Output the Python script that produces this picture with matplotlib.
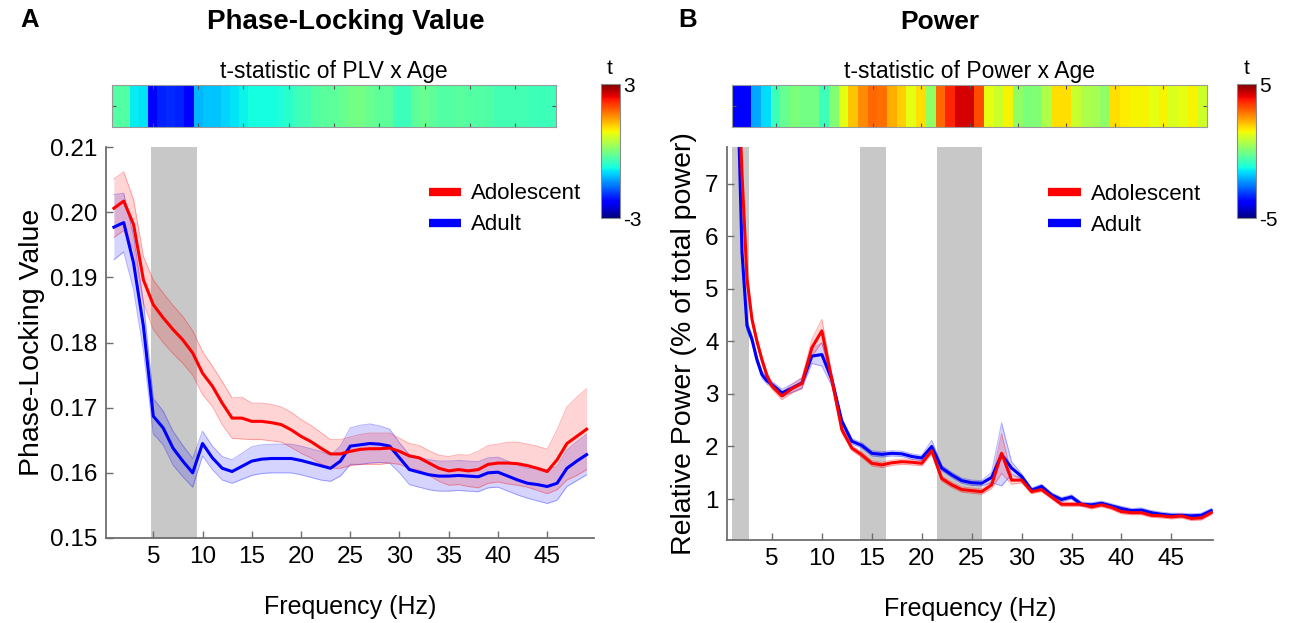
import numpy as np
import matplotlib
matplotlib.use('Agg')
import matplotlib.pyplot as plt
from matplotlib.lines import Line2D

plt.rcParams['font.family'] = ['Liberation Sans', 'DejaVu Sans']

# ---------------- Panel A: Phase-Locking Value ----------------
freq_a = list(range(1, 50))
plv_adolescent = [0.2006, 0.2017, 0.1981, 0.1896, 0.1858, 0.1838, 0.1820, 0.1804, 0.1784, 0.1753,
                  0.1733, 0.1707, 0.1684, 0.1684, 0.1679, 0.1679, 0.1677, 0.1674, 0.1666, 0.1656,
                  0.1648, 0.1638, 0.1629, 0.1629, 0.1633, 0.1636, 0.1637, 0.1637, 0.1638, 0.1633,
                  0.1626, 0.1623, 0.1615, 0.1607, 0.1603, 0.1605, 0.1603, 0.1605, 0.1613, 0.1615,
                  0.1615, 0.1614, 0.1611, 0.1607, 0.1602, 0.1620, 0.1645, 0.1656, 0.1667]
plv_adolescent_sem = [0.0045, 0.0045, 0.0038, 0.0036, 0.0038, 0.0038, 0.0037, 0.0036, 0.0034, 0.0033,
                      0.0031, 0.0033, 0.0031, 0.0032, 0.0028, 0.0028, 0.0028, 0.0027, 0.0027, 0.0026,
                      0.0025, 0.0024, 0.0022, 0.0022, 0.0022, 0.0023, 0.0024, 0.0024, 0.0023, 0.0020,
                      0.0019, 0.0019, 0.0019, 0.0020, 0.0022, 0.0023, 0.0024, 0.0028, 0.0029, 0.0029,
                      0.0032, 0.0033, 0.0033, 0.0034, 0.0034, 0.0046, 0.0056, 0.0060, 0.0062]
plv_adult = [0.1977, 0.1984, 0.1922, 0.1825, 0.1687, 0.1669, 0.1638, 0.1618, 0.1600, 0.1645,
             0.1623, 0.1607, 0.1602, 0.1610, 0.1618, 0.1621, 0.1622, 0.1622, 0.1622, 0.1619,
             0.1615, 0.1611, 0.1607, 0.1618, 0.1641, 0.1643, 0.1645, 0.1644, 0.1641, 0.1623,
             0.1605, 0.1601, 0.1597, 0.1595, 0.1595, 0.1596, 0.1595, 0.1594, 0.1600, 0.1601,
             0.1595, 0.1589, 0.1584, 0.1582, 0.1579, 0.1584, 0.1607, 0.1618, 0.1628]
plv_adult_sem = [0.0050, 0.0045, 0.0041, 0.0038, 0.0027, 0.0026, 0.0026, 0.0024, 0.0022, 0.0019,
                 0.0018, 0.0018, 0.0018, 0.0020, 0.0022, 0.0022, 0.0022, 0.0022, 0.0022, 0.0022,
                 0.0022, 0.0022, 0.0020, 0.0023, 0.0028, 0.0030, 0.0030, 0.0028, 0.0026, 0.0023,
                 0.0023, 0.0023, 0.0023, 0.0023, 0.0023, 0.0023, 0.0023, 0.0023, 0.0023, 0.0023,
                 0.0023, 0.0023, 0.0023, 0.0025, 0.0026, 0.0026, 0.0028, 0.0030, 0.0031]
t_plv = [-0.3, -0.3, -0.85, -0.9, -2.3, -2.05, -2.0, -2.05, -2.25, -1.15,
         -1.1, -1.1, -1.0, -0.9, -0.8, -0.75, -0.75, -0.75, -0.7, -0.6,
         -0.45, -0.4, -0.3, -0.25, -0.22, -0.15, -0.07, -0.07, -0.15, -0.22,
         -0.22, -0.45, -0.45, -0.22, -0.15, -0.22, -0.3, -0.3, -0.25, -0.3,
         -0.3, -0.32, -0.4, -0.4, -0.4, -0.4, -0.45, -0.45, -0.45]
sig_plv = [(4.75, 9.45)]

# ---------------- Panel B: Relative Power ----------------
freq_b = [1.5, 2, 2.5, 3, 3.5, 4, 4.5] + list(range(5, 50))
pow_adolescent = [9.6, 7.2, 5.2, 4.42, 4.0, 3.65, 3.35,
                  3.15, 2.96, 3.10, 3.20, 3.88, 4.20, 3.27, 2.32, 1.97, 1.84,
                  1.68, 1.65, 1.69, 1.71, 1.70, 1.68, 1.92, 1.39, 1.27, 1.18,
                  1.16, 1.14, 1.27, 1.87, 1.36, 1.36, 1.14, 1.18, 1.04, 0.90,
                  0.90, 0.90, 0.85, 0.89, 0.84, 0.76, 0.74, 0.74, 0.69, 0.68,
                  0.66, 0.68, 0.63, 0.64, 0.74]
pow_adolescent_sem = [0.15, 0.12, 0.10, 0.08, 0.07, 0.07, 0.06,
                      0.06, 0.07, 0.08, 0.10, 0.16, 0.22, 0.10, 0.06, 0.05, 0.05,
                      0.05, 0.05, 0.05, 0.05, 0.05, 0.05, 0.06, 0.05, 0.05, 0.05,
                      0.05, 0.05, 0.07, 0.38, 0.08, 0.05, 0.04, 0.04, 0.04, 0.04,
                      0.04, 0.04, 0.04, 0.04, 0.04, 0.04, 0.04, 0.04, 0.04, 0.04,
                      0.04, 0.04, 0.04, 0.04, 0.04]
pow_adult = [9.3, 5.7, 4.3, 4.04, 3.65, 3.37, 3.25,
             3.18, 3.02, 3.11, 3.21, 3.72, 3.75, 3.27, 2.48, 2.10, 2.02,
             1.87, 1.85, 1.87, 1.86, 1.81, 1.78, 2.00, 1.59, 1.46, 1.35,
             1.31, 1.30, 1.41, 1.85, 1.59, 1.43, 1.17, 1.24, 1.08, 0.99,
             1.04, 0.90, 0.89, 0.92, 0.87, 0.82, 0.78, 0.79, 0.74, 0.71,
             0.69, 0.69, 0.68, 0.69, 0.78]
pow_adult_sem = [0.15, 0.12, 0.10, 0.08, 0.07, 0.07, 0.06,
                 0.06, 0.07, 0.08, 0.10, 0.14, 0.22, 0.12, 0.06, 0.05, 0.05,
                 0.05, 0.05, 0.05, 0.05, 0.05, 0.05, 0.12, 0.05, 0.05, 0.05,
                 0.05, 0.05, 0.10, 0.60, 0.12, 0.05, 0.04, 0.04, 0.04, 0.04,
                 0.04, 0.04, 0.04, 0.04, 0.04, 0.04, 0.04, 0.04, 0.04, 0.04,
                 0.04, 0.04, 0.04, 0.04, 0.04]
t_pow = [-3.75, -3.75, -2.1, -1.6, -0.75, -0.25, 0.0, -0.1, -0.1, -0.75,
         0.1, 1.25, 2.0, 2.6, 3.0, 2.9, 2.25, 1.9, 1.25, 1.75,
         0.25, 3.0, 3.7, 4.25, 4.25, 3.3, 1.25, 1.0, 1.5, 0.25,
         0.0, 0.1, 0.6, 1.75, 1.75, 0.9, 0.6, 0.5, 0.25, 1.75,
         1.6, 1.5, 1.5, 1.25, 1.5, 1.15, 1.25, 1.5, 1.0]
sig_pow = [(1.05, 2.75), (13.85, 16.4), (21.5, 26.0)]

freq_ticks = [5, 10, 15, 20, 25, 30, 35, 40, 45]
plv_ticks = [0.15, 0.16, 0.17, 0.18, 0.19, 0.20, 0.21]
pow_ticks = [1, 2, 3, 4, 5, 6, 7]

W, H = 1293, 623
fig = plt.figure(figsize=(W / 100, H / 100), dpi=100)


def box(x0, y0, x1, y1):
    return [x0 / W, 1 - y1 / H, (x1 - x0) / W, (y1 - y0) / H]


SPINE = '#6e6e6e'
RED = '#ff0000'
BLUE = '#0000ff'


def line_panel(rect, f, m_ado, s_ado, m_adu, s_adu, spans, xlim, ylim, yticks, yfmt, ylabel, ylab_pad):
    ax = fig.add_axes(rect)
    f = np.asarray(f, float)
    for a, b in spans:
        ax.axvspan(a, b, color='#c8c8c8', lw=0, zorder=0)
    for m, s, c in [(m_adu, s_adu, BLUE), (m_ado, s_ado, RED)]:
        m = np.asarray(m); s = np.asarray(s)
        ax.fill_between(f, m - s, m + s, color=c, alpha=0.17, lw=0, zorder=1)
        ax.plot(f, m - s, color=c, alpha=0.3, lw=0.7, zorder=1)
        ax.plot(f, m + s, color=c, alpha=0.3, lw=0.7, zorder=1)
    ax.plot(f, m_adu, color=BLUE, lw=2.2, zorder=3)
    ax.plot(f, m_ado, color=RED, lw=2.2, zorder=4)
    ax.set_xlim(*xlim)
    ax.set_ylim(*ylim)
    ax.set_xticks(freq_ticks)
    ax.set_yticks(yticks)
    ax.set_yticklabels([yfmt(v) for v in yticks])
    for sp in ['top', 'right']:
        ax.spines[sp].set_visible(False)
    for sp in ['left', 'bottom']:
        ax.spines[sp].set_color(SPINE)
        ax.spines[sp].set_linewidth(1.3)
    ax.tick_params(direction='in', length=5, width=1, color=SPINE, labelsize=17.5, pad=6)
    ax.set_xlabel('Frequency (Hz)', fontsize=18, labelpad=19)
    ax.set_ylabel(ylabel, fontsize=20.5, labelpad=ylab_pad)
    handles = [Line2D([0], [0], color=RED, lw=6, solid_capstyle='butt'),
               Line2D([0], [0], color=BLUE, lw=6, solid_capstyle='butt')]
    ax.legend(handles, ['Adolescent', 'Adult'], loc='upper left', bbox_to_anchor=(0.62, 0.958),
              frameon=False, fontsize=16, handlelength=1.45, handletextpad=0.45, labelspacing=0.45)
    return ax


def strip(rect, cbrect, f, t, vmax, title, tx):
    ax = fig.add_axes(rect)
    im = ax.imshow(np.asarray(t)[np.newaxis, :], aspect='auto', cmap='jet', vmin=-vmax, vmax=vmax,
                   extent=[f[0] - 0.5, f[-1] + 0.5, 0, 1], interpolation='nearest')
    ax.set_xticks(freq_ticks)
    ax.set_yticks([0.5])
    ax.set_xticklabels([])
    ax.set_yticklabels([])
    ax.tick_params(direction='in', length=3, color='#555555', top=True, right=True)
    for sp in ax.spines.values():
        sp.set_color('#9a9a9a')
    ax.set_title(title, fontsize=16.5, pad=5)
    cax = fig.add_axes(cbrect)
    cb = fig.colorbar(im, cax=cax, ticks=[-vmax, vmax])
    cb.ax.set_yticklabels(['-%d' % vmax, '%d' % vmax])
    cb.ax.tick_params(length=0, labelsize=15, pad=2)
    cb.outline.set_edgecolor('#8a8a8a')
    fig.text(tx / W, 1 - 68 / H, 't', fontsize=15, ha='center', va='center')
    return ax


line_panel(box(106, 147, 594, 538), freq_a, plv_adolescent, plv_adolescent_sem, plv_adult, plv_adult_sem,
           sig_plv, (0.2, 49.75), (0.15, 0.21), plv_ticks, lambda v: '%.2f' % v, 'Phase-Locking Value', 4)
line_panel(box(727, 147, 1213, 540), freq_b, pow_adolescent, pow_adolescent_sem, pow_adult, pow_adult_sem,
           sig_pow, (0.5, 49.17), (0.22, 7.7), pow_ticks, lambda v: '%d' % v,
           'Relative Power (% of total power)', 6)

strip(box(112, 85, 556, 127), box(601, 84, 620, 218), freq_a, t_plv, 3, 't-statistic of PLV x Age', 610)
strip(box(732, 85, 1207, 127), box(1237, 84, 1256, 218), freq_a, t_pow, 5, 't-statistic of Power x Age', 1247)

fig.text(30 / W, 1 - 20 / H, 'A', fontsize=18.5, fontweight='bold', ha='center', va='center')
fig.text(688 / W, 1 - 20 / H, 'B', fontsize=18.5, fontweight='bold', ha='center', va='center')
fig.text(346 / W, 1 - 22 / H, 'Phase-Locking Value', fontsize=20, fontweight='bold', ha='center', va='center')
fig.text(940 / W, 1 - 22 / H, 'Power', fontsize=19, fontweight='bold', ha='center', va='center')

fig.savefig('out.png', dpi=100)
